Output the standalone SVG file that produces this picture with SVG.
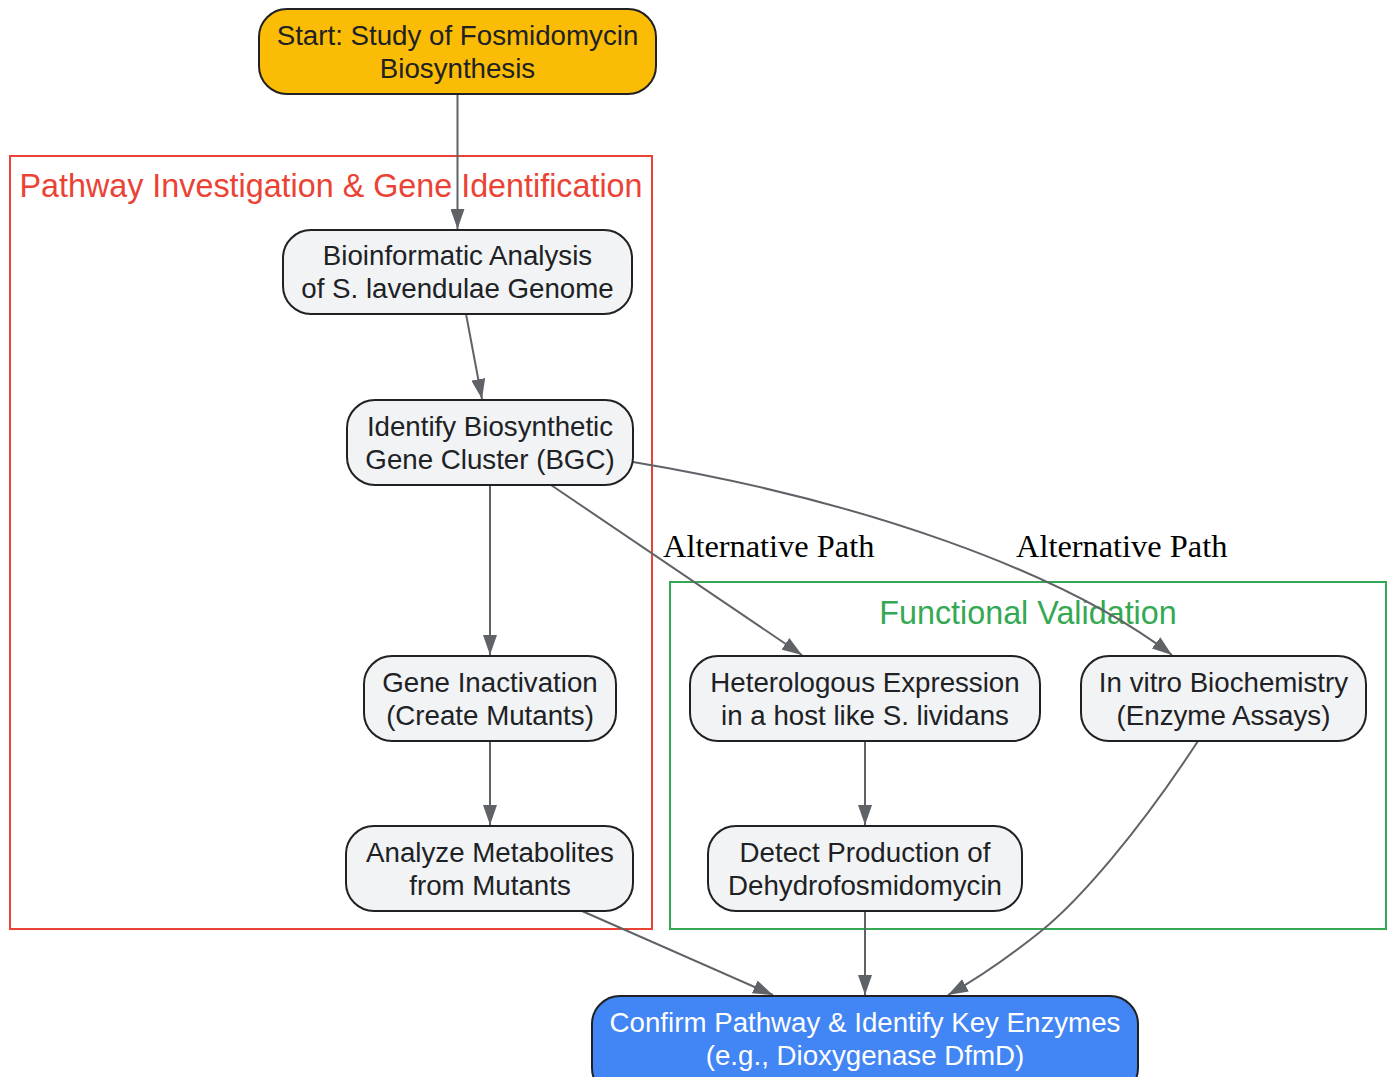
<svg xmlns="http://www.w3.org/2000/svg" width="1391" height="1077" viewBox="0 0 1391 1077">
<defs>
<style>
.node rect{fill:#F1F3F4;stroke:#202124;stroke-width:2}
.node text{font-family:"Liberation Sans",Arial,sans-serif;font-size:27.7px;fill:#202124;text-anchor:middle}
.edge{fill:none;stroke:#5F6368;stroke-width:2}
.lbl{font-family:"Liberation Serif","Times New Roman",serif;font-size:32.4px;fill:#000}
.ctitle{font-family:"Liberation Sans",Arial,sans-serif;font-size:32.3px;text-anchor:middle}
</style>
<marker id="ah" viewBox="0 0 20 14" refX="20" refY="7" markerWidth="20" markerHeight="14" markerUnits="userSpaceOnUse" orient="auto">
<path d="M0,0 L20,7 L0,14 z" fill="#5F6368"/>
</marker>
</defs>
<rect width="1391" height="1077" fill="#fff"/>
<g id="cluster-pathway">
<rect x="10" y="156" width="642" height="773" fill="none" stroke="#EA4335" stroke-width="2"/>
<text class="ctitle" x="331" y="197" fill="#EA4335">Pathway Investigation &amp; Gene Identification</text>
</g>
<g id="cluster-functional">
<rect x="670" y="582" width="716" height="347" fill="none" stroke="#34A853" stroke-width="2"/>
<text class="ctitle" x="1028" y="624" fill="#34A853">Functional Validation</text>
</g>
<g id="connectors">
<path class="edge" d="M457.5,94 L457.5,229" marker-end="url(#ah)"/>
<path class="edge" d="M466,314 L482,399" marker-end="url(#ah)"/>
<path class="edge" d="M490,485 L490,655" marker-end="url(#ah)"/>
<path class="edge" d="M551,485 L802,655" marker-end="url(#ah)"/>
<path class="edge" d="M633,462 C860,500 1060,570 1172,655" marker-end="url(#ah)"/>
<path class="edge" d="M490,741 L490,825" marker-end="url(#ah)"/>
<path class="edge" d="M865,741 L865,825" marker-end="url(#ah)"/>
<path class="edge" d="M582,911 L773,995" marker-end="url(#ah)"/>
<path class="edge" d="M865,911 L865,995" marker-end="url(#ah)"/>
<path class="edge" d="M1198,741 C1140,830 1080,900 1040,932 S975,980 948,995" marker-end="url(#ah)"/>
<text class="lbl" x="663" y="557">Alternative Path</text>
<text class="lbl" x="1016" y="557">Alternative Path</text>
</g>
<g id="start" class="node">
<rect x="259" y="9" width="397" height="85" rx="28" style="fill:#FBBC05"/>
<text x="457.5" y="45">Start: Study of Fosmidomycin</text>
<text x="457.5" y="78">Biosynthesis</text>
</g>
<g id="bioinformatic" class="node">
<rect x="283" y="230" width="349" height="84" rx="28"/>
<text x="457.5" y="265">Bioinformatic Analysis</text>
<text x="457.5" y="298">of S. lavendulae Genome</text>
</g>
<g id="identify-bgc" class="node">
<rect x="347" y="400" width="286" height="85" rx="28"/>
<text x="490" y="436">Identify Biosynthetic</text>
<text x="490" y="469">Gene Cluster (BGC)</text>
</g>
<g id="gene-inactivation" class="node">
<rect x="364" y="656" width="252" height="85" rx="28"/>
<text x="490" y="692">Gene Inactivation</text>
<text x="490" y="725">(Create Mutants)</text>
</g>
<g id="analyze-metabolites" class="node">
<rect x="346" y="826" width="287" height="85" rx="28"/>
<text x="490" y="862">Analyze Metabolites</text>
<text x="490" y="895">from Mutants</text>
</g>
<g id="heterologous" class="node">
<rect x="690" y="656" width="350" height="85" rx="28"/>
<text x="865" y="692">Heterologous Expression</text>
<text x="865" y="725">in a host like S. lividans</text>
</g>
<g id="in-vitro" class="node">
<rect x="1081" y="656" width="285" height="85" rx="28"/>
<text x="1223.5" y="692">In vitro Biochemistry</text>
<text x="1223.5" y="725">(Enzyme Assays)</text>
</g>
<g id="detect" class="node">
<rect x="708" y="826" width="314" height="85" rx="28"/>
<text x="865" y="862">Detect Production of</text>
<text x="865" y="895">Dehydrofosmidomycin</text>
</g>
<g id="confirm" class="node">
<rect x="592" y="996" width="546" height="100" rx="28" style="fill:#4285F4"/>
<text x="865" y="1032" style="fill:#fff">Confirm Pathway &amp; Identify Key Enzymes</text>
<text x="865" y="1065" style="fill:#fff">(e.g., Dioxygenase DfmD)</text>
</g>
</svg>
